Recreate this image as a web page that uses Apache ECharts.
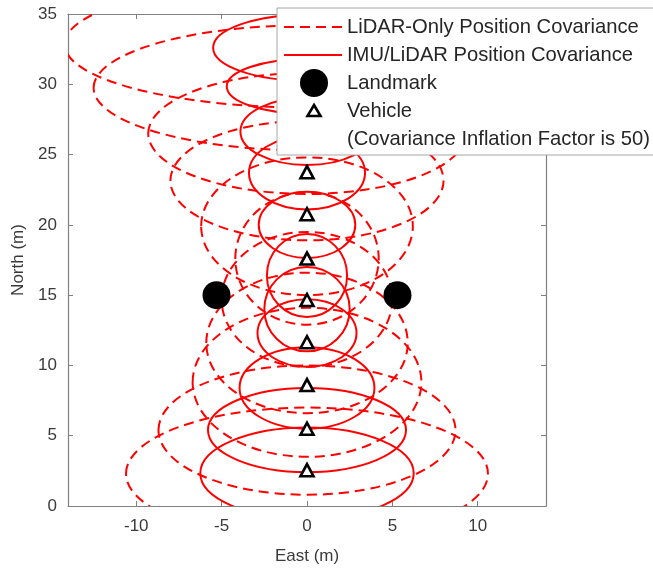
<!DOCTYPE html>
<html>
<head>
<meta charset="utf-8">
<script src="https://cdn.jsdelivr.net/npm/echarts@6/dist/echarts.min.js"></script>
<style>
html,body{margin:0;padding:0;background:#fff;}
#chart{width:653px;height:569px;}
</style>
</head>
<body>
<div id="chart"></div>
<script>
// ---- data ----
const xTickValues = [-10, -5, 0, 5, 10];
const vehicleEast  = [0, 0, 0, 0, 0, 0, 0, 0, 0, 0, 0];
const vehicleNorth = [2.55, 5.5, 8.6, 11.65, 14.65, 17.6, 20.75, 23.75, 26.8, 29.8, 32.8];
const landmarkEast  = [-5.3, 5.3];
const landmarkNorth = [15, 15];

// LiDAR-only covariance ellipses: centre (east, north), semi-axes (east, north)
const lidarCenterEast  = [0, 0, 0, 0, 0, 0, 0, 0, 0, 0, 0];
const lidarCenterNorth = [2.3, 5.4, 8.8, 11.6, 14.7, 17.6, 19.9, 23.15, 26.5, 29.75, 32.85];
const lidarSemiEast    = [10.6, 8.7, 6.7, 5.9, 5.0, 4.2, 6.2, 8.0, 9.3, 12.5, 14.2];
const lidarSemiNorth   = [4.7, 4.6, 5.3, 5.0, 4.8, 4.7, 4.9, 4.25, 4.3, 4.45, 4.5];

// IMU/LiDAR covariance ellipses
const imuCenterEast  = [0, 0, 0, 0, 0, 0, 0, 0, 0, 0, 0];
const imuCenterNorth = [2.33, 5.4, 8.4, 12.3, 14.0, 16.4, 20.0, 23.7, 26.65, 29.85, 32.6];
const imuSemiEast    = [6.25, 5.8, 3.95, 2.9, 2.5, 2.35, 2.83, 3.4, 3.9, 4.7, 5.5];
const imuSemiNorth   = [3.25, 3.0, 2.9, 2.4, 3.0, 2.95, 2.35, 2.6, 2.4, 1.95, 2.35];

const legendLabels = [
  'LiDAR-Only Position Covariance',
  'IMU/LiDAR Position Covariance',
  'Landmark',
  'Vehicle',
  '(Covariance Inflation Factor is 50)'
];

// ---- build ----
const FONT = '"Liberation Sans", Arial, sans-serif';
const RED = '#ff0000';
const AXIS_COLOR = '#808080';
const LABEL_COLOR = '#3a3a3a';

function zip4(a, b, c, d) { return a.map((v, i) => [v, b[i], c[i], d[i]]); }
const lidarData = zip4(lidarCenterEast, lidarCenterNorth, lidarSemiEast, lidarSemiNorth);
const imuData = zip4(imuCenterEast, imuCenterNorth, imuSemiEast, imuSemiNorth);
const vehicleData = vehicleEast.map((v, i) => [v, vehicleNorth[i]]);
const landmarkData = landmarkEast.map((v, i) => [v, landmarkNorth[i]]);

function ellipseRenderer(dashed) {
  return function (params, api) {
    const c = api.coord([api.value(0), api.value(1)]);
    const s = api.size([api.value(2), api.value(3)]);
    return {
      type: 'ellipse',
      shape: { cx: c[0], cy: c[1], rx: s[0], ry: s[1] },
      style: {
        fill: 'none',
        stroke: RED,
        lineWidth: 2,
        lineDash: dashed ? [10, 6] : null
      }
    };
  };
}

const chart = echarts.init(document.getElementById('chart'), null, { renderer: 'canvas' });

const baseAxis = {
  type: 'value',
  axisLine: { show: true, onZero: false, lineStyle: { color: AXIS_COLOR, width: 1.2 } },
  axisTick: { show: true, inside: true, length: 5, lineStyle: { color: AXIS_COLOR, width: 1 } },
  splitLine: { show: false },
  axisLabel: { color: LABEL_COLOR, fontFamily: FONT, fontSize: 17 },
  nameTextStyle: { color: LABEL_COLOR, fontFamily: FONT, fontSize: 17 }
};

const LZ = 100;
function legendText(i, y) {
  return { type: 'text', z: LZ + 1, x: 347, y: y,
    style: { text: legendLabels[i], font: '20.2px ' + FONT, fill: '#262626', verticalAlign: 'middle' } };
}

const option = {
  animation: false,
  backgroundColor: '#ffffff',
  grid: { left: 68, right: 107, top: 14, bottom: 63, outerBoundsMode: 'none' },
  xAxis: [
    Object.assign({}, baseAxis, {
      position: 'bottom', min: -14, max: 14,
      name: 'East (m)', nameLocation: 'middle', nameGap: 42,
      axisTick: Object.assign({}, baseAxis.axisTick, { customValues: xTickValues }),
      axisLabel: Object.assign({}, baseAxis.axisLabel, { customValues: xTickValues, margin: 12 })
    }),
    Object.assign({}, baseAxis, {
      position: 'top', min: -14, max: 14,
      axisTick: Object.assign({}, baseAxis.axisTick, { customValues: xTickValues }),
      axisLabel: { show: false }
    })
  ],
  yAxis: [
    Object.assign({}, baseAxis, {
      position: 'left', min: 0, max: 35, interval: 5,
      name: 'North (m)', nameLocation: 'middle', nameGap: 39, nameRotate: 90,
      axisLabel: Object.assign({}, baseAxis.axisLabel, { margin: 11 })
    }),
    Object.assign({}, baseAxis, {
      position: 'right', min: 0, max: 35, interval: 5,
      axisLabel: { show: false }
    })
  ],
  series: [
    {
      name: legendLabels[0], type: 'custom', clip: true,
      xAxisIndex: 0, yAxisIndex: 0,
      encode: { x: 0, y: 1 },
      renderItem: ellipseRenderer(true),
      data: lidarData, z: 2
    },
    {
      name: legendLabels[1], type: 'custom', clip: true,
      xAxisIndex: 0, yAxisIndex: 0,
      encode: { x: 0, y: 1 },
      renderItem: ellipseRenderer(false),
      data: imuData, z: 3
    },
    {
      name: legendLabels[2], type: 'scatter', symbol: 'circle', symbolSize: 28,
      itemStyle: { color: '#000000', opacity: 1 },
      data: landmarkData, z: 5
    },
    {
      name: legendLabels[3], type: 'scatter', symbol: 'triangle', symbolSize: [13, 12],
      itemStyle: { color: '#ffffff', borderColor: '#000000', borderWidth: 2.6, opacity: 1 },
      data: vehicleData, z: 6
    }
  ],
  graphic: [
    { type: 'rect', z: LZ, shape: { x: 277, y: 8, width: 420, height: 147 },
      style: { fill: '#ffffff', stroke: '#a6a6a6', lineWidth: 1 } },
    { type: 'line', z: LZ + 1, shape: { x1: 284, y1: 27, x2: 342, y2: 27 },
      style: { stroke: RED, lineWidth: 2, lineDash: [10, 6] } },
    { type: 'line', z: LZ + 1, shape: { x1: 284, y1: 55, x2: 342, y2: 55 },
      style: { stroke: RED, lineWidth: 2 } },
    { type: 'circle', z: LZ + 1, shape: { cx: 314, cy: 83, r: 14 }, style: { fill: '#000000' } },
    { type: 'polygon', z: LZ + 1, shape: { points: [[314, 105], [320.5, 116], [307.5, 116]] },
      style: { fill: '#ffffff', stroke: '#000000', lineWidth: 2.6 } },
    legendText(0, 27),
    legendText(1, 55),
    legendText(2, 83),
    legendText(3, 111),
    legendText(4, 139)
  ]
};

chart.setOption(option);
</script>
</body>
</html>
